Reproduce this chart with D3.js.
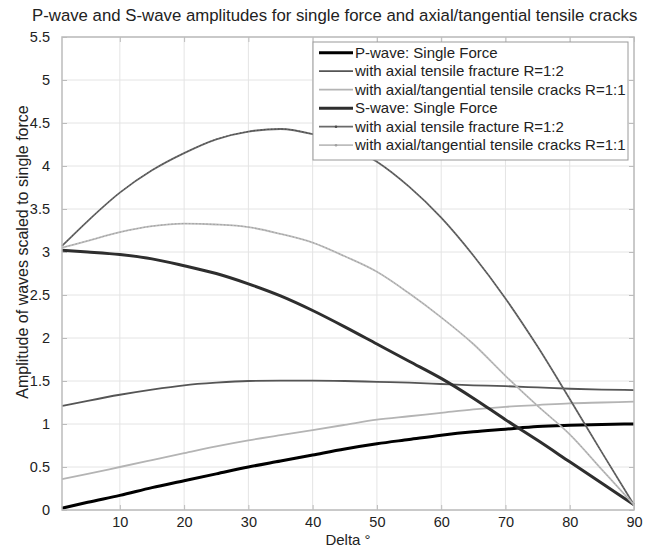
<!DOCTYPE html>
<html>
<head>
<meta charset="utf-8">
<script src="https://cdn.jsdelivr.net/npm/d3@7"></script>
<style>
  html, body { margin: 0; padding: 0; background: #fff; }
  svg { display: block; font-family: "Liberation Sans", Arial, sans-serif; }
</style>
</head>
<body>
<svg id="chart" width="651" height="547"></svg>
<script>
// Incidence angle (degrees) at which amplitudes are tabulated
const delta = [1, 5, 10, 15, 20, 25, 30, 35, 40, 45, 50, 55, 60, 65, 70, 75, 80, 85, 90];

// P-wave amplitudes, scaled to the single-force case
const pSingle      = [0.02, 0.09, 0.17, 0.26, 0.34, 0.42, 0.50, 0.57, 0.64, 0.71, 0.77, 0.82, 0.87, 0.91, 0.94, 0.97, 0.985, 0.995, 1.00];
const pAxial       = [1.21, 1.27, 1.34, 1.40, 1.45, 1.48, 1.50, 1.505, 1.505, 1.50, 1.49, 1.48, 1.465, 1.45, 1.44, 1.425, 1.41, 1.40, 1.395];
const pTangential  = [0.36, 0.42, 0.50, 0.58, 0.66, 0.74, 0.81, 0.87, 0.93, 0.99, 1.05, 1.09, 1.13, 1.17, 1.20, 1.22, 1.24, 1.25, 1.26];

// S-wave amplitudes, scaled to the single-force case
const sSingle      = [3.02, 3.00, 2.97, 2.92, 2.84, 2.75, 2.63, 2.49, 2.32, 2.13, 1.93, 1.73, 1.53, 1.30, 1.05, 0.81, 0.56, 0.31, 0.06];
const sAxial       = [3.07, 3.36, 3.69, 3.95, 4.15, 4.31, 4.40, 4.43, 4.37, 4.25, 4.05, 3.76, 3.40, 2.96, 2.46, 1.90, 1.29, 0.67, 0.06];
const sTangential  = [3.05, 3.13, 3.23, 3.30, 3.33, 3.32, 3.29, 3.21, 3.11, 2.95, 2.77, 2.52, 2.24, 1.93, 1.56, 1.21, 0.88, 0.47, 0.06];

const legendLabels = [
  "P-wave: Single Force",
  "with axial tensile fracture R=1:2",
  "with axial/tangential tensile cracks R=1:1",
  "S-wave: Single Force",
  "with axial tensile fracture R=1:2",
  "with axial/tangential tensile cracks R=1:1"
];

const xTicks = [10, 20, 30, 40, 50, 60, 70, 80, 90];
const yTicks = [0, 0.5, 1, 1.5, 2, 2.5, 3, 3.5, 4, 4.5, 5, 5.5];

const titleText = "P-wave and S-wave amplitudes for single force and axial/tangential tensile cracks";
const xLabel = "Delta \u00b0";
const yLabel = "Amplitude of waves scaled to single force";

// line styles per series (drawing order = legend order)
const styles = [
  { color: "#000000", width: 3.0 },
  { color: "#555555", width: 1.8 },
  { color: "#b4b4b4", width: 1.8 },
  { color: "#2e2e2e", width: 3.0 },
  { color: "#6a6a6a", width: 1.8, beads: "#4a4a4a" },
  { color: "#bdbdbd", width: 1.8, beads: "#a0a0a0" }
];
const seriesValues = [pSingle, pAxial, pTangential, sSingle, sAxial, sTangential];

const W = 651, H = 547;
const margin = { left: 62, right: 17, top: 37, bottom: 37 };
const plotW = W - margin.left - margin.right;
const plotH = H - margin.top - margin.bottom;

const svg = d3.select("#chart");

const x = d3.scaleLinear().domain([1, 90]).range([margin.left, margin.left + plotW]);
const y = d3.scaleLinear().domain([0, 5.5]).range([margin.top + plotH, margin.top]);

// grid
const grid = svg.append("g").attr("class", "grid");
grid.selectAll("line.gx").data(xTicks).join("line")
  .attr("x1", d => x(d)).attr("x2", d => x(d))
  .attr("y1", y(0)).attr("y2", y(5.5))
  .attr("stroke", "#e4e4e4").attr("stroke-width", 1);
grid.selectAll("line.gy").data(yTicks).join("line")
  .attr("x1", x(1)).attr("x2", x(90))
  .attr("y1", d => y(d)).attr("y2", d => y(d))
  .attr("stroke", "#e4e4e4").attr("stroke-width", 1);

// axes with inward ticks on all four sides
const axisColor = "#bcbcbc";
const fmt = d => String(d);

const gB = svg.append("g").attr("transform", `translate(0,${y(0)})`)
  .call(d3.axisBottom(x).tickValues(xTicks).tickFormat(fmt).tickSizeInner(-5).tickSizeOuter(0).tickPadding(7));
const gL = svg.append("g").attr("transform", `translate(${x(1)},0)`)
  .call(d3.axisLeft(y).tickValues(yTicks).tickFormat(fmt).tickSizeInner(-5).tickSizeOuter(0).tickPadding(12));
const gT = svg.append("g").attr("transform", `translate(0,${y(5.5)})`)
  .call(d3.axisTop(x).tickValues(xTicks).tickFormat("").tickSizeInner(-5).tickSizeOuter(0));
const gR = svg.append("g").attr("transform", `translate(${x(90)},0)`)
  .call(d3.axisRight(y).tickValues(yTicks).tickFormat("").tickSizeInner(-5).tickSizeOuter(0));

[gB, gL, gT, gR].forEach(g => {
  g.select(".domain").remove();
  g.selectAll(".tick line").attr("stroke", axisColor);
  g.selectAll(".tick text").attr("fill", "#222").style("font-size", "14.5px")
    .style("font-family", "'Liberation Sans', Arial, sans-serif");
});

// data lines
const line = d3.line()
  .x((d, i) => x(delta[i]))
  .y(d => y(d))
  .curve(d3.curveMonotoneX);

const linesG = svg.append("g").attr("class", "series");
seriesValues.forEach((vals, k) => {
  linesG.append("path")
    .attr("d", line(vals))
    .attr("fill", "none")
    .attr("stroke", styles[k].color)
    .attr("stroke-width", styles[k].width)
    .attr("stroke-linejoin", "round");
  if (styles[k].beads) {
    linesG.append("path")
      .attr("d", line(vals))
      .attr("fill", "none")
      .attr("stroke", styles[k].beads)
      .attr("stroke-width", 1)
      .attr("stroke-dasharray", "1.5,2");
  }
});

// plot box
svg.append("rect")
  .attr("x", x(1)).attr("y", y(5.5))
  .attr("width", x(90) - x(1)).attr("height", y(0) - y(5.5))
  .attr("fill", "none").attr("stroke", axisColor).attr("stroke-width", 1.5);

// legend
const lg = svg.append("g").attr("class", "legend");
const lgX = 313, lgY = 42, lgW = 315, lgH = 118, rowH = 18.5, row0 = 52.7;
lg.append("rect").attr("x", lgX).attr("y", lgY).attr("width", lgW).attr("height", lgH)
  .attr("fill", "#fff").attr("stroke", "#9a9a9a").attr("stroke-width", 1);
legendLabels.forEach((lab, k) => {
  const cy = row0 + k * rowH;
  lg.append("line").attr("x1", lgX + 6).attr("x2", lgX + 40)
    .attr("y1", cy).attr("y2", cy)
    .attr("stroke", styles[k].color).attr("stroke-width", styles[k].width);
  if (styles[k].beads) {
    lg.append("circle").attr("cx", lgX + 23).attr("cy", cy).attr("r", 1.3)
      .attr("fill", styles[k].beads);
  }
  lg.append("text").attr("x", lgX + 42).attr("y", cy).attr("dy", "0.35em")
    .attr("fill", "#222").style("font-size", "15px").text(lab);
});

// title and axis labels
svg.append("text").attr("x", 32).attr("y", 21)
  .attr("text-anchor", "start").attr("fill", "#222").style("font-size", "16.8px")
  .text(titleText);
svg.append("text").attr("x", (x(1) + x(90)) / 2).attr("y", 545)
  .attr("text-anchor", "middle").attr("fill", "#222").style("font-size", "15px")
  .text(xLabel);
svg.append("text").attr("transform", `translate(28,252) rotate(-90)`)
  .attr("text-anchor", "middle").attr("fill", "#222").style("font-size", "16px")
  .text(yLabel);
</script>
</body>
</html>
